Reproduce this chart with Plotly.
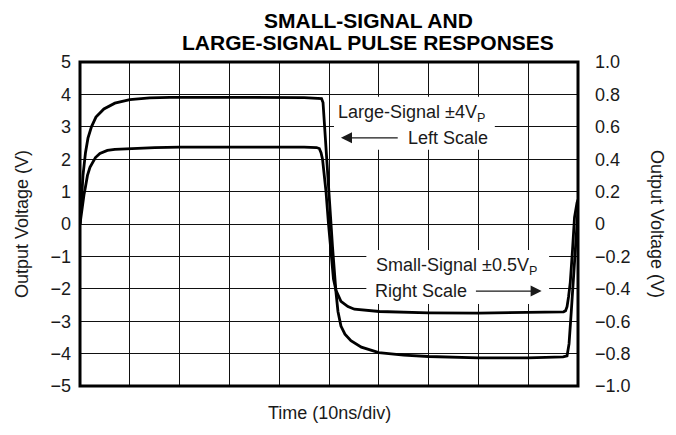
import plotly.graph_objects as go

# ---- data (time in ns, 10 ns/div) ----
large_t = [0, 0.3, 0.6, 1.1, 1.6, 2.3, 3.2, 4.8, 7.0, 10, 14, 18, 26, 35, 45, 48.0,
           48.5, 48.8, 49.1, 49.4, 50.0, 50.7, 51.4, 51.8, 52.4, 53.2, 54.4, 56.5,
           60, 65, 70, 80, 90, 97.0, 97.8, 98.2, 98.65, 99.3, 99.8, 100]
large_v = [0.0, 0.8, 1.5, 2.2, 2.65, 3.0, 3.3, 3.55, 3.73, 3.84, 3.89, 3.91, 3.92, 3.91, 3.9, 3.89,
           3.87, 3.75, 3.0, 2.2, 0.9, -0.7, -2.1, -2.7, -3.15, -3.4, -3.6, -3.8,
           -3.97, -4.05, -4.09, -4.13, -4.13, -4.1, -4.07, -3.7, -2.7, -1.2, 0.0, 0.45]

small_t = [0, 0.3, 0.6, 0.8, 1.1, 1.5, 2.0, 3.1, 4.0, 5.5, 7.0, 10, 15, 20, 26, 35, 45, 47.5,
           48.05, 48.4, 48.7, 49.4, 49.9, 50.4, 50.9, 51.4, 52.4, 53.8, 55.1, 60.1, 70, 80, 90,
           97.1, 97.5, 97.8, 98.1, 98.45, 98.9, 99.3, 99.8, 100]
small_v = [0.0, 0.08, 0.14, 0.18, 0.23, 0.3, 0.35, 0.41, 0.435, 0.454, 0.461, 0.466, 0.471, 0.474,
           0.476, 0.475, 0.474, 0.472,
           0.466, 0.44, 0.40, 0.20, 0.0, -0.20, -0.34, -0.41, -0.478, -0.51, -0.526, -0.54, -0.548,
           -0.55, -0.546,
           -0.542, -0.535, -0.51, -0.45, -0.36, -0.16, 0.04, 0.13, 0.15]

left_ticks = [5, 4, 3, 2, 1, 0, -1, -2, -3, -4, -5]
left_text = ["5", "4", "3", "2", "1", "0", "\u22121", "\u22122", "\u22123", "\u22124", "\u22125"]
right_ticks = [1.0, 0.8, 0.6, 0.4, 0.2, 0, -0.2, -0.4, -0.6, -0.8, -1.0]
right_text = ["1.0", "0.8", "0.6", "0.4", "0.2", "0", "\u22120.2", "\u22120.4", "\u22120.6",
              "\u22120.8", "\u22121.0"]

title_lines = ["SMALL-SIGNAL AND", "LARGE-SIGNAL PULSE RESPONSES"]

FONT = "Liberation Sans, Arial, Helvetica, sans-serif"

# plot area in pixels
L, R, T, B = 72, 570, 54, 378
W, H = R - L, B - T

fig = go.Figure()
fig.add_trace(go.Scatter(x=large_t, y=large_v, mode="lines",
                         line=dict(color="black", width=2.8), yaxis="y", showlegend=False))
fig.add_trace(go.Scatter(x=small_t, y=small_v, mode="lines",
                         line=dict(color="black", width=2.8), yaxis="y2", showlegend=False))

fig.update_layout(
    width=676, height=435,
    margin=dict(l=L, r=676 - R, t=T, b=435 - B),
    paper_bgcolor="white", plot_bgcolor="white",
    font=dict(family=FONT, size=18, color="#1a1a1a"),
    xaxis=dict(range=[0, 100], dtick=10, tick0=0, showgrid=True, gridcolor="#111",
               gridwidth=1, showticklabels=False, zeroline=False, showline=False,
               ticks=""),
    yaxis=dict(range=[-5, 5], tickvals=left_ticks, ticktext=left_text, showgrid=True,
               gridcolor="#111", gridwidth=1, zeroline=False, showline=False, ticks="",
               ticklabelstandoff=8),
    yaxis2=dict(range=[-1, 1], overlaying="y", side="right", tickvals=right_ticks,
                ticktext=right_text, showgrid=False, zeroline=False, showline=False,
                ticks="", ticklabelstandoff=16),
)

# white label boxes covering the grid
fig.add_shape(type="rect", xref="x", yref="y", x0=51.0, x1=83.3, y0=2.29, y1=3.93,
              fillcolor="white", line=dict(width=0), layer="between")
fig.add_shape(type="rect", xref="x", yref="y", x0=57.5, x1=94.2, y0=-2.47, y1=-0.80,
              fillcolor="white", line=dict(width=0), layer="between")
# plot frame
fig.add_shape(type="rect", xref="x domain", yref="y domain", x0=0, x1=1, y0=0, y1=1,
              line=dict(color="black", width=3), layer="above")

def px(x):
    return (x - L) / W

def py(y):
    return (B - y) / H

ann = []
for line_text, yc in zip(title_lines, [12.5, 34.5]):
    ann.append(dict(text="<b>" + line_text + "</b>", xref="paper", yref="paper",
                    x=px(360), y=py(yc), xanchor="center", yanchor="middle",
                    showarrow=False, font=dict(size=21, family=FONT, color="black")))
ann.append(dict(text="Time (10ns/div)", xref="paper", yref="paper", x=0.5,
                y=py(405), xanchor="center", yanchor="middle", showarrow=False))
ann.append(dict(text="Output Voltage (V)", xref="paper", yref="paper", x=px(14),
                y=0.5, xanchor="center", yanchor="middle", textangle=-90, showarrow=False))
ann.append(dict(text="Output Voltage (V)", xref="paper", yref="paper", x=px(649),
                y=0.5, xanchor="center", yanchor="middle", textangle=90, showarrow=False))
ann.append(dict(text="Large-Signal \u00b14V<sub>P</sub>", xref="x", yref="y", x=66.6, y=3.40,
                xanchor="center", yanchor="middle", showarrow=False))
ann.append(dict(text="Left Scale", xref="x", yref="y", x=73.8, y=2.66,
                xanchor="center", yanchor="middle", showarrow=False))
ann.append(dict(text="", xref="x", yref="y", x=52.4, y=2.66, axref="x", ayref="y",
                ax=64.1, ay=2.66, showarrow=True, arrowhead=2, arrowsize=1.7,
                arrowwidth=1.3, arrowcolor="#1a1a1a"))
ann.append(dict(text="Small-Signal \u00b10.5V<sub>P</sub>", xref="x", yref="y", x=75.6, y=-1.32,
                xanchor="center", yanchor="middle", showarrow=False))
ann.append(dict(text="Right Scale", xref="x", yref="y", x=68.4, y=-2.07,
                xanchor="center", yanchor="middle", showarrow=False))
ann.append(dict(text="", xref="x", yref="y", x=92.7, y=-2.07, axref="x", ayref="y",
                ax=79.2, ay=-2.07, showarrow=True, arrowhead=2, arrowsize=1.7,
                arrowwidth=1.3, arrowcolor="#1a1a1a"))
fig.update_layout(annotations=ann)

fig.write_html("out.html")
